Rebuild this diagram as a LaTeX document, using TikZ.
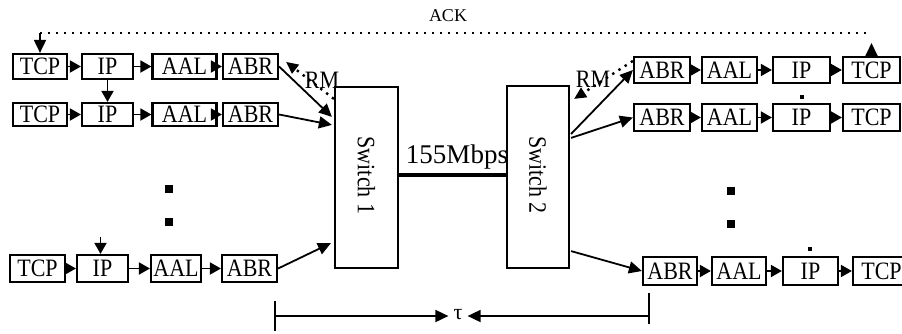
\documentclass[tikz,border=0pt]{standalone}
\usepackage{fontspec}
\setmainfont{Liberation Serif}
\newfontfamily\cond{Liberation Serif}[FakeStretch=0.88]
\usetikzlibrary{arrows.meta,calc}
\begin{document}
\begin{tikzpicture}[x=1pt,y=-1pt,
  box/.style={draw,line width=2.2pt,inner sep=0pt,font=\cond\fontsize{25}{27}\selectfont},
  sw/.style={draw,line width=2.2pt,inner sep=0pt},
  link/.style={line width=1.8pt,-{Triangle[length=13pt,width=12pt]}},
  small/.style={line width=1.8pt,-{Triangle[length=11pt,width=12pt]}},
  rm/.style={line width=2.4pt,dash pattern=on 2.4pt off 5pt,-{Triangle[length=12pt,width=11pt]}},
  ack/.style={line width=2.4pt,dash pattern=on 2.4pt off 5.6pt},
  lbl/.style={inner sep=0pt,font=\cond\fontsize{25}{27}\selectfont},
  bar/.style={line width=1.8pt}
]
\useasboundingbox (0,0) rectangle (902,333);

% left rows
\node[box,minimum width=54pt,minimum height=25pt] (lt1) at (40,66.5) {TCP};
\node[box,minimum width=51pt,minimum height=25pt] (li1) at (107.5,66.5) {IP};
\node[box,minimum width=64pt,minimum height=25pt] (la1) at (184.5,66.5) {AAL};
\node[box,minimum width=55pt,minimum height=25pt] (lb1) at (250.5,66.5) {ABR};

\node[box,minimum width=54pt,minimum height=23pt] (lt2) at (40,114.5) {TCP};
\node[box,minimum width=51pt,minimum height=23pt] (li2) at (107.5,114.5) {IP};
\node[box,minimum width=64pt,minimum height=23pt] (la2) at (184.5,114.5) {AAL};
\node[box,minimum width=55pt,minimum height=23pt] (lb2) at (250.5,114.5) {ABR};

\node[box,minimum width=55pt,minimum height=27pt] (lt3) at (37.5,268.5) {TCP};
\node[box,minimum width=51pt,minimum height=27pt] (li3) at (102.5,268.5) {IP};
\node[box,minimum width=50pt,minimum height=27pt] (la3) at (176,268.5) {AAL};
\node[box,minimum width=55pt,minimum height=27pt] (lb3) at (249.5,268.5) {ABR};

% right rows
\node[box,minimum width=56pt,minimum height=26pt] (rb1) at (662,70) {ABR};
\node[box,minimum width=55pt,minimum height=26pt] (ra1) at (729.5,70) {AAL};
\node[box,minimum width=57pt,minimum height=26pt] (ri1) at (801.5,70) {IP};
\node[box,minimum width=57pt,minimum height=26pt] (rt1) at (871.5,70) {TCP};

\node[box,minimum width=56pt,minimum height=27pt] (rb2) at (662,117.5) {ABR};
\node[box,minimum width=55pt,minimum height=27pt] (ra2) at (729.5,117.5) {AAL};
\node[box,minimum width=57pt,minimum height=27pt] (ri2) at (801.5,117.5) {IP};
\node[box,minimum width=57pt,minimum height=27pt] (rt2) at (871.5,117.5) {TCP};

\node[box,minimum width=54pt,minimum height=28pt] (rb3) at (670,271) {ABR};
\node[box,minimum width=54pt,minimum height=28pt] (ra3) at (739,271) {AAL};
\node[box,minimum width=55pt,minimum height=28pt] (ri3) at (810.5,271) {IP};
\node[box,minimum width=57pt,minimum height=28pt] (rt3) at (881.5,271) {TCP};

% switches
\node[sw,minimum width=63pt,minimum height=181pt] (s1) at (366.5,177.5) {};
\node[sw,minimum width=62pt,minimum height=182pt] (s2) at (538,177) {};
\node[lbl,rotate=-90] (s1t) at ($(s1.center)+(0,-2)$) {Switch 1};
\node[lbl,rotate=-90] (s2t) at ($(s2.center)+(0,-2)$) {Switch 2};
\draw[line width=4.5pt] ($(s1.east)+(0,-2.5)$) -- ($(s2.west)+(0,-2)$);
\node[inner sep=0pt,font=\fontsize{27}{29}\selectfont] (bw) at (457,157) {155Mbps};

% ACK
\node[inner sep=0pt,font=\fontsize{18}{20}\selectfont] (ackt) at (448,16) {ACK};
\coordinate (ackL) at (40,33);
\coordinate (ackR) at (rt1.north |- ackL);
\draw[ack] (ackL) -- (ackR);
\draw[link] (ackL) -- (lt1.north);
\draw[link,shorten >=10pt] (rt1.north) -- (ackR);

% inter-box arrows
\foreach \a/\b in {lt1/li1,li1/la1,la1/lb1,lt2/li2,li2/la2,la2/lb2,lt3/li3,li3/la3,la3/lb3,
                   rb1/ra1,ra1/ri1,ri1/rt1,rb2/ra2,ra2/ri2,ri2/rt2,rb3/ra3,ra3/ri3,ri3/rt3}
  \draw[small] (\a.east) -- (\b.west);
\draw[small] (li1.south) -- (li2.north);
\coordinate (ip3top) at ($(li3.north)+(-2,-17)$);
\draw[small] (ip3top) -- ($(li3.north)+(-2,0)$);
\fill ($(ri2.north)+(-1.5,-8)$) rectangle +(4,4);
\fill ($(ri3.north)+(-3,-9)$) rectangle +(4,4);

% ellipsis
\fill (165,185) rectangle +(8,8);
\fill (165,218) rectangle +(8,8);
\fill (727,187) rectangle +(8,8);
\fill (727,220) rectangle +(8,8);

% links to switches
\draw[link] (lb1.east) -- ($(s1.north west)+(-2,31)$);
\draw[link] (lb2.east) -- ($(s1.north west)+(-2,39)$);
\draw[link] (lb3.east) -- ($(s1.south west)+(-3,-26)$);
\draw[rm] ($(s1.north west)+(0,13)$) -- ($(lb1.north east)+(7,9)$);
\node[lbl] (rm1) at (322,80) {RM};

\draw[link] ($(s2.north east)+(1,49)$) -- (rb1.west);
\draw[link] ($(s2.north east)+(1,53)$) -- (rb2.west);
\draw[link] ($(s2.south east)+(1,-18)$) -- (rb3.west);
\draw[rm] ($(rb1.north west)+(0,5)$) -- ($(s2.north east)+(4,14)$);
\node[lbl] (rm2) at (593,79) {RM};

% tau
\node[inner sep=5pt,font=\fontsize{22}{24}\selectfont] (tau) at (458,315) {τ};
\coordinate (tL) at (275,316);
\coordinate (tR) at (649,316);
\draw[bar] ($(tL)+(0,-15)$) -- ($(tL)+(0,15)$);
\draw[bar] ($(tR)+(0,-23)$) -- ($(tR)+(0,8)$);
\draw[link] (tL) -- (tau.west |- tL);
\draw[link] (tR) -- (tau.east |- tR);
\end{tikzpicture}
\end{document}
